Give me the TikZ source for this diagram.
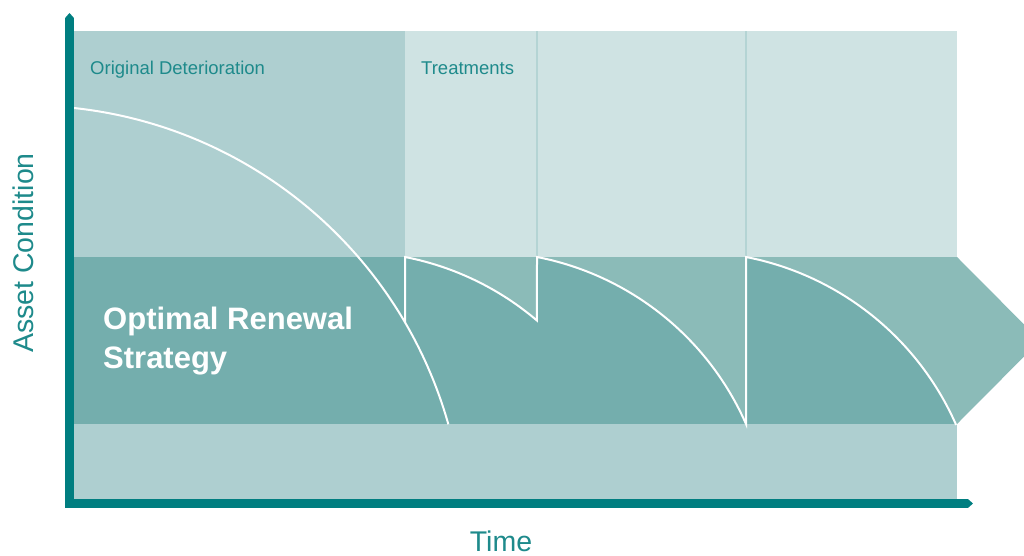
\documentclass[tikz,border=0pt]{standalone}
\usepackage{fontspec}
\setmainfont{Liberation Sans}
\usepackage{xcolor}
\usetikzlibrary{arrows.meta}
\definecolor{axisteal}{HTML}{007E80}
\definecolor{labelteal}{HTML}{1E8A8B}
\definecolor{origfill}{HTML}{AECFD0}
\definecolor{treatfill}{HTML}{CFE3E3}
\definecolor{bandlight}{HTML}{8BBBB8}
\definecolor{banddark}{HTML}{74AEAD}
\definecolor{sepcolor}{HTML}{B4D4D4}
\begin{document}
\begin{tikzpicture}[
x=1pt, y=1pt,
axisline/.style={draw=axisteal, line width=8.5pt, line join=miter, {Triangle[length=5pt,width=8.5pt]}-{Triangle[length=5pt,width=8.5pt]}},
curveline/.style={draw=white, line width=2pt, line join=miter},
sepline/.style={draw=sepcolor, line width=1.5pt},
smalllabel/.style={text=labelteal, inner sep=0pt, font=\fontsize{18.5}{22}\selectfont},
axislabel/.style={text=labelteal, inner sep=0pt, font=\fontsize{28.5}{34}\selectfont},
strategylabel/.style={text=white, inner sep=0pt, align=left, font=\fontsize{31}{39}\selectfont\bfseries},
]
\useasboundingbox (0,0) rectangle (1024,555);
\clip (0,0) rectangle (1024,555);

%Bands
\fill[origfill]  (74,298) rectangle (405,524);
\fill[treatfill] (405,298) rectangle (957,524);
\draw[sepline] (537,298) -- (537,524);
\draw[sepline] (746,298) -- (746,524);
\fill[banddark]  (74,131) rectangle (405,298);
\fill[bandlight] (405,131) -- (405,298) -- (957,298) -- (1040,214.5) -- (957,131) -- cycle;
\fill[banddark] (405,298) arc[start angle=79, end angle=49.6, radius=288.5] -- (537,131) -- (405,131) -- cycle;
\fill[banddark] (537,298) arc[start angle=79, end angle=23.75, radius=288.5] -- (537,131) -- cycle;
\fill[banddark] (746,298) arc[start angle=79, end angle=23.75, radius=290] -- (746,131) -- cycle;
\fill[origfill]  (74,56) rectangle (957,131);

%Curves
\draw[curveline] (74,447) arc[start angle=83.84, end angle=15.77, radius=437.8];
\draw[curveline] (405,232.9) -- (405,298) arc[start angle=79, end angle=49.6, radius=288.5]
  -- (537,298) arc[start angle=79, end angle=23.75, radius=288.5]
  -- (746,298) arc[start angle=79, end angle=23.75, radius=290];

%Labels
\node[smalllabel, anchor=base west] (origlabel)  at (90,480)  {Original Deterioration};
\node[smalllabel, anchor=base west] (treatlabel) at (421,480) {Treatments};
\node[strategylabel, anchor=north west] (strategy) at (103,248.5) {Optimal Renewal\\Strategy};
\node[axislabel, anchor=base, rotate=90] (ylabel) at (33,302) {Asset Condition};
\node[axislabel, anchor=base] (xlabel) at (501,4) {Time};

%Axes
\coordinate (ytip)   at (69.5,542);
\coordinate (origin) at (69.5,51.5);
\coordinate (xtip)   at (973,51.5);
\draw[axisline] (ytip) -- (origin) -- (xtip);
\end{tikzpicture}
\end{document}
